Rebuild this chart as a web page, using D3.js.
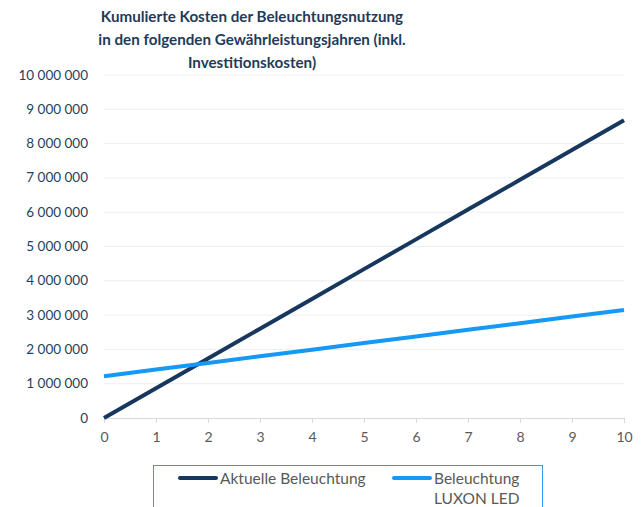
<!DOCTYPE html>
<html>
<head>
<meta charset="utf-8">
<script src="https://cdn.jsdelivr.net/npm/d3@7"></script>
<style>
  body { margin: 0; background: #fff; }
  svg { font-family: Lato, "Open Sans", sans-serif; }
</style>
</head>
<body>
<div id="chart"></div>
<script>
// Jahre (x-Achse)
var years = [0, 1, 2, 3, 4, 5, 6, 7, 8, 9, 10];
// kumulierte Kosten
var aktuell = [0, 868000, 1736000, 2604000, 3472000, 4340000, 5208000, 6076000, 6944000, 7812000, 8680000];
var luxon = [1220000, 1413000, 1606000, 1799000, 1992000, 2185000, 2378000, 2571000, 2764000, 2957000, 3150000];
var yTicks = [0, 1000000, 2000000, 3000000, 4000000, 5000000, 6000000, 7000000, 8000000, 9000000, 10000000];
var titleLines = ["Kumulierte Kosten der Beleuchtungsnutzung", "in den folgenden Gewährleistungsjahren (inkl.", "Investitionskosten)"];
var seriesNames = ["Aktuelle Beleuchtung", "Beleuchtung|LUXON LED"];

var W = 641, H = 507;
var svg = d3.select("#chart").append("svg")
    .attr("width", W).attr("height", H);

var x = d3.scaleLinear().domain([0, 10]).range([104, 624]);
var y = d3.scaleLinear().domain([0, 10000000]).range([418, 75]);

var fmt = function(v) { return d3.format(",")(v).replace(/,/g, " "); };

// gridlines
svg.append("g").selectAll("line")
    .data(yTicks.filter(function(d) { return d > 0; }))
    .enter().append("line")
    .attr("x1", x(0)).attr("x2", x(10))
    .attr("y1", function(d) { return y(d); })
    .attr("y2", function(d) { return y(d); })
    .attr("stroke", "#eceff3").attr("stroke-width", 1);

// y labels
svg.append("g").selectAll("text")
    .data(yTicks)
    .enter().append("text")
    .attr("x", 88)
    .attr("y", function(d) { return y(d) + 4.5; })
    .attr("text-anchor", "end")
    .attr("font-size", 13.5)
    .attr("fill", "#243f5e")
    .text(fmt);

// x axis
var xAxis = svg.append("g")
    .attr("transform", "translate(0," + y(0) + ")")
    .call(d3.axisBottom(x).tickValues(years).tickSize(5).tickPadding(9).tickFormat(d3.format("d")));
xAxis.select(".domain").attr("stroke", "#d9d9d9");
xAxis.selectAll(".tick line").attr("stroke", "#d9d9d9");
xAxis.selectAll(".tick text")
    .attr("fill", "#595959")
    .attr("font-size", 14)
    .attr("font-family", "Lato, sans-serif");

// lines
var line = d3.line()
    .x(function(d, i) { return x(years[i]); })
    .y(function(d) { return y(d); });

svg.append("path").datum(aktuell)
    .attr("d", line)
    .attr("fill", "none")
    .attr("stroke", "#17375e")
    .attr("stroke-width", 4);

svg.append("path").datum(luxon)
    .attr("d", line)
    .attr("fill", "none")
    .attr("stroke", "#1699f5")
    .attr("stroke-width", 4);

// title
svg.append("text")
    .attr("text-anchor", "middle")
    .attr("font-size", 15.2)
    .attr("font-weight", "bold")
    .attr("fill", "#1f3b5a")
    .selectAll("tspan")
    .data(titleLines)
    .enter().append("tspan")
    .attr("x", 252)
    .attr("y", function(d, i) { return 22 + i * 23; })
    .text(function(d) { return d; });

// legend
var leg = svg.append("g");
leg.append("rect")
    .attr("x", 153.5).attr("y", 465.5)
    .attr("width", 389).attr("height", 60)
    .attr("fill", "none")
    .attr("stroke", "#2b9af0").attr("stroke-width", 1);

var legColors = ["#17375e", "#1699f5"];
var legX = [180, 394];
seriesNames.forEach(function(name, i) {
    leg.append("line")
        .attr("x1", legX[i]).attr("x2", legX[i] + 36)
        .attr("y1", 478).attr("y2", 478)
        .attr("stroke", legColors[i])
        .attr("stroke-width", 4)
        .attr("stroke-linecap", "round");
    leg.append("text")
        .attr("font-size", 15.5)
        .attr("fill", "#595959")
        .selectAll("tspan")
        .data(name.split("|"))
        .enter().append("tspan")
        .attr("x", legX[i] + 40)
        .attr("y", function(d, j) { return 483.5 + j * 20; })
        .text(function(d) { return d; });
});
</script>
</body>
</html>
